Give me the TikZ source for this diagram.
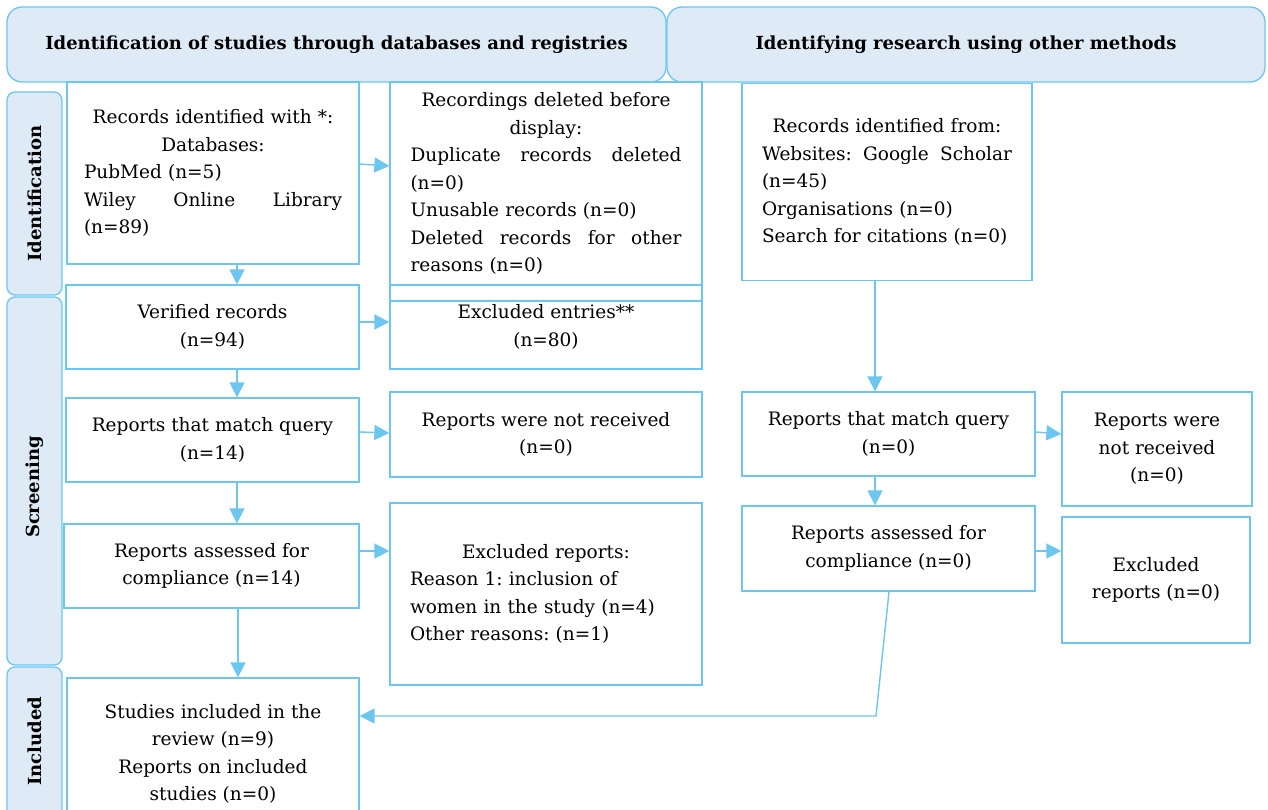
\documentclass[tikz,border=0pt]{standalone}
\usepackage{fontspec}
\setmainfont{DejaVu Serif}
\usetikzlibrary{arrows.meta,positioning}
\definecolor{edge}{RGB}{108,198,240}
\definecolor{hfill}{RGB}{222,234,246}
\newcommand{\myj}[1]{\makebox[\hsize]{#1}}
\newcommand{\myc}[1]{\makebox[\hsize][c]{#1}}
\frenchspacing
\tikzset{
  box/.style={draw=edge, line width=1.3pt, inner sep=0pt, align=center,
    font=\frenchspacing\fontsize{18.5}{27.5}\selectfont},
  hdr/.style={draw=edge, fill=hfill, line width=1.3pt, rounded corners=15pt,
    inner sep=0pt, font=\bfseries\fontsize{18}{22}\selectfont},
  side/.style={draw=edge, fill=hfill, line width=1.3pt, rounded corners=8pt,
    inner sep=0pt},
  sidetext/.style={rotate=90, font=\bfseries\fontsize{18}{22}\selectfont},
  arr/.style={draw=edge, line width=1.4pt, -{Triangle[length=15pt,width=15pt]}},
}
\begin{document}
\begin{tikzpicture}[x=1pt,y=-1pt]
\useasboundingbox (0,0) rectangle (1268,810);
% headers
\node[hdr, minimum width=659pt, minimum height=75pt] (hdrL) at (336.5,44.5)
  {Identification of studies through databases and registries};
\node[hdr, minimum width=598pt, minimum height=75pt] (hdrR) at (966,44.5)
  {Identifying research using other methods};
% side labels
\node[side, minimum width=55pt, minimum height=203pt] (labId) at (34.5,193.5) {};
\node[sidetext] (labIdT) at (labId.center) {Identification};
\node[side, minimum width=55pt, minimum height=368pt] (labScr) at (34.5,481) {};
\node[sidetext] (labScrT) at (34.5,487) {Screening};
\node[side, minimum width=55pt, minimum height=162pt] (labInc) at (34.5,748) {};
\node[sidetext] (labIncT) at (34.5,741) {Included};
% left column
\node[box, minimum width=292pt, minimum height=182pt, text width=258pt, align=left] (b1) at (213,173)
  {\myc{Records identified with *:}\\ \myc{Databases:}\\ PubMed (n=5)\\ \myj{Wiley\hfill Online\hfill Library}\\ (n=89)};
\node[box, minimum width=293pt, minimum height=84pt] (ver) at (212.5,327) {Verified records\\ (n=94)};
\node[box, minimum width=293pt, minimum height=84pt] (mq) at (212.5,440) {Reports that match query\\ (n=14)};
\node[box, minimum width=295pt, minimum height=84pt] (as) at (211.5,566) {Reports assessed for\\ compliance (n=14)};
\node[box, minimum width=292pt, minimum height=152pt] (inc) at (213,754)
  {Studies included in the\\ review (n=9)\\ Reports on included\\ studies (n=0)};
% middle column
\node[box, minimum width=312pt, minimum height=203pt, text width=271pt, align=left] (b2) at (546,183.5)
  {\myc{Recordings deleted before}\\ \myc{display:}\\ \myj{Duplicate\hfill records\hfill deleted}\\ (n=0)\\ Unusable records (n=0)\\ \myj{Deleted\hfill records\hfill for\hfill other}\\ reasons (n=0)};
\node[box, minimum width=312pt, minimum height=84pt] (exc) at (546,327) {Excluded entries**\\ (n=80)};
\draw[edge, line width=1.3pt] (exc.west |- 0,301) -- (exc.east |- 0,301);
\node[box, minimum width=312pt, minimum height=85pt] (nr) at (546,434.5) {Reports were not received\\ (n=0)};
\node[box, minimum width=312pt, minimum height=182pt, text width=272pt, align=left] (er) at (546,594)
  {\myc{Excluded reports:}\\ Reason 1: inclusion of\\ women in the study (n=4)\\ Other reasons: (n=1)};
% right column
\node[box, minimum width=290pt, minimum height=197pt, text width=250pt, align=left] (b3) at (887,182)
  {\myc{Records identified from:}\\ \myj{Websites:\hfill Google\hfill Scholar}\\ (n=45)\\ Organisations (n=0)\\ Search for citations (n=0)};
\node[box, minimum width=293pt, minimum height=84pt] (mq2) at (888.5,434) {Reports that match query\\ (n=0)};
\node[box, minimum width=293pt, minimum height=85pt] (as2) at (888.5,548.5) {Reports assessed for\\ compliance (n=0)};
\node[box, minimum width=190pt, minimum height=114pt] (nr2) at (1157,449) {Reports were\\ not received\\ (n=0)};
\node[box, minimum width=188pt, minimum height=126pt] (er2) at (1156,580) {Excluded\\ reports (n=0)};
% connectors
\draw[arr] (b1.east |- 0,164) -- (b2.west |- 0,166);
\draw[arr] (b1.south -| 237,0) -- (ver.north -| 237,0);
\draw[arr] (ver.east |- 0,322) -- (exc.west |- 0,322);
\draw[arr] (ver.south -| 237,0) -- (mq.north -| 237,0);
\draw[arr] (mq.east |- 0,432) -- (nr.west |- 0,433);
\draw[arr] (mq.south -| 237,0) -- (as.north -| 237,0);
\draw[arr] (as.east |- 0,551) -- (er.west |- 0,551);
\draw[arr] (as.south -| 238,0) -- (inc.north -| 238,0);
\draw[arr] (b3.south -| 875,0) -- (mq2.north -| 875,0);
\draw[arr] (mq2.east |- 0,432) -- (nr2.west |- 0,434);
\draw[arr] (mq2.south -| 875,0) -- (as2.north -| 875,0);
\draw[arr] (as2.east |- 0,551) -- (er2.west |- 0,551);
\coordinate (bend) at (876,716);
\draw[arr] (as2.south -| 889,0) -- (bend) -- (inc.east |- bend);
\end{tikzpicture}
\end{document}
